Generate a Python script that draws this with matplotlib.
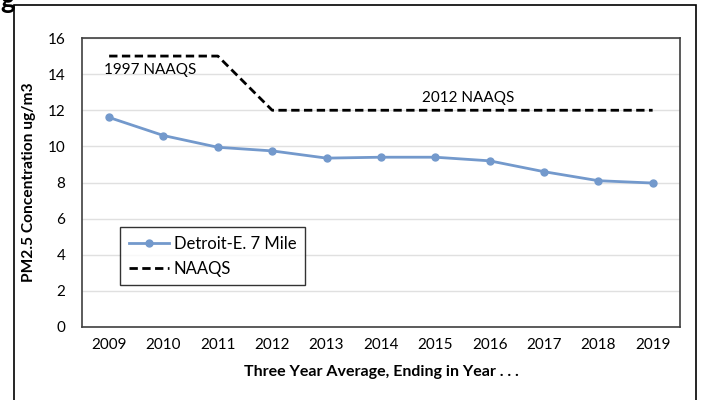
import matplotlib.pyplot as plt
from matplotlib.patches import Rectangle

# data
years = ['2009', '2010', '2011', '2012', '2013', '2014', '2015', '2016', '2017', '2018', '2019']
detroit = [11.6, 10.6, 9.95, 9.75, 9.35, 9.4, 9.4, 9.2, 8.6, 8.1, 7.97]
naaqs = [15, 15, 15, 12, 12, 12, 12, 12, 12, 12, 12]

plt.rcParams['font.family'] = ['Lato', 'DejaVu Sans']

fig = plt.figure(figsize=(7.03, 4.0), dpi=100)
ax = fig.add_axes([0.1166, 0.1825, 0.8504, 0.7225])

x = range(len(years))
ax.plot(x, detroit, color='#7399cc', lw=2, marker='o', ms=5, label='Detroit-E. 7 Mile', zorder=3)
ax.plot(x, naaqs, color='black', lw=2, ls=(0, (3, 1.6)), label='NAAQS', zorder=3)

ax.set_xlim(-0.5, len(years) - 0.5)
ax.set_ylim(0, 16)
ax.set_yticks(range(0, 17, 2))
ax.set_xticks(list(x))
ax.set_xticklabels(years)
ax.tick_params(length=0, labelsize=11, pad=8)
ax.tick_params(axis='y', pad=12)
ax.grid(axis='y', color='#e0e0e0', lw=1)
ax.set_axisbelow(True)
for s in ax.spines.values():
    s.set_color('#404040')
    s.set_linewidth(1.2)

ax.set_xlabel('Three Year Average, Ending in Year . . .', fontsize=11.5, fontweight='bold', labelpad=9)
ax.set_ylabel('PM2.5 Concentration ug/m3', fontsize=11.2, fontweight='bold', labelpad=8)

ax.text(-0.1, 14.6, '1997 NAAQS', fontsize=11, va='top', ha='left')
ax.text(6.6, 12.3, '2012 NAAQS', fontsize=11, va='bottom', ha='center')

leg = ax.legend(loc='lower left', bbox_to_anchor=(0.064, 0.145), fontsize=12, frameon=True,
                fancybox=False, edgecolor='black', handlelength=2.4, handletextpad=0.3,
                borderpad=0.5, labelspacing=0.55, borderaxespad=0)
leg.get_frame().set_linewidth(1)

# outer chart border and cut-off title fragment
fig.patches.append(Rectangle((14 / 703, -0.05), 682 / 703, 1.0 - 5 / 400 + 0.05,
                             transform=fig.transFigure, fill=False, edgecolor='black', lw=1.2))
fig.text(0.0, 1.0, 'g', fontsize=20, fontweight='bold', va='center', ha='left')

fig.savefig('out.png', dpi=100)
